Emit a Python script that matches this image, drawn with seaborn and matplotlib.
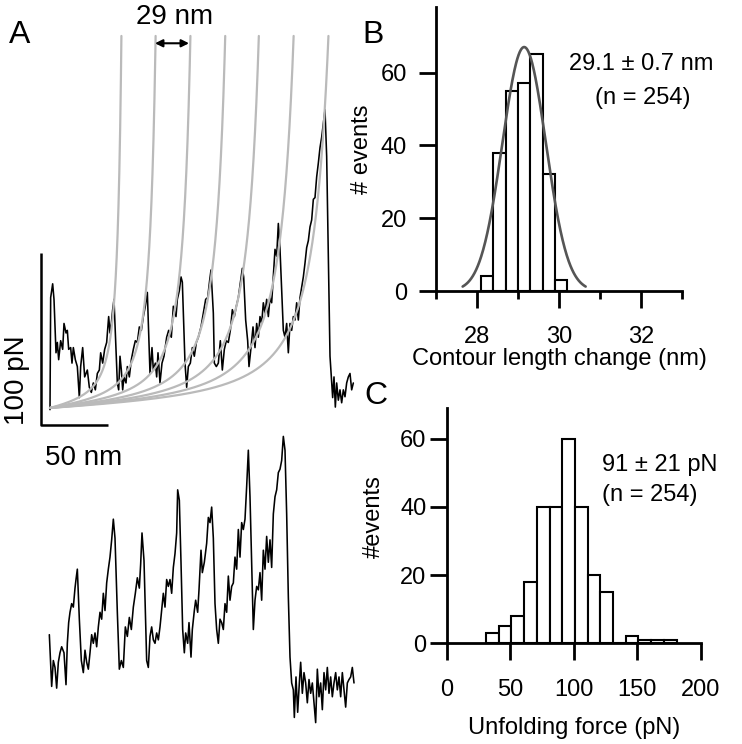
import numpy as np
import pandas as pd
import matplotlib
matplotlib.use("Agg")
import matplotlib.pyplot as plt
import seaborn as sns

# ---- Panel A: force-extension traces (extension in nm, force in pN) ----
top_ext = [0, 0.5, 2, 3, 4.5, 5.5, 6.5, 8, 9.5, 10.5,
           12, 13, 14, 15.5, 16.5, 17.5, 19, 20.5, 22, 23,
           24.5, 26, 28, 29.5, 31, 32.5, 34, 35.5, 37, 38,
           39.5, 41, 42.5, 44, 45, 46, 47, 48, 49, 50.5,
           51.5, 52.5, 53.5, 54.5, 55.5, 57, 58, 59.5, 61, 62.5,
           64, 65.5, 67, 68.5, 70, 71.5, 73, 75, 76.5, 77.5,
           79, 80, 81, 82.5, 84, 85.5, 87.5, 89, 91, 92.5,
           94.5, 95.5, 97, 98.25, 99.25, 100, 101.25, 102.5, 103.75, 105.25,
           106.75, 108.25, 109.75, 111.25, 113.25, 115, 116.75, 118.25, 119.75, 120.75,
           122.5, 123.25, 124.75, 126.25, 127.75, 129.25, 130.75, 132.25, 133.75, 135.25,
           136.75, 138.25, 139.75, 141.25, 142.75, 144.25, 145.25, 146.75, 148.25, 149.25,
           150.75, 152.25, 153.75, 155, 156.25, 157.5, 158.75, 160, 161.25, 162.5,
           163.75, 165, 166.25, 167.5, 168.75, 170, 171.25, 172.5, 173.75, 175,
           176.25, 177.5, 178.75, 180, 181.25, 182.5, 183.75, 185, 186.25, 187.5,
           188.75, 190, 191.25, 192.5, 193.75, 195, 196.25, 197.5, 198.75, 200,
           201.25, 202.5, 203.75, 205, 206.25, 207.5, 208.75, 210, 212, 213,
           214, 215, 216.25, 217.5, 218.75, 220, 221.25, 222.5, 223.75, 225,
           226.25, 227.5]
top_force = [-1, 64, 72, 63, 32, 38, 28, 39, 34, 49,
             43.5, 45, 34, 35, 26, 35, 28, 24, 6, 24,
             35, 18, 22, 12, 9, 14.5, 10.5, 20, 22, 32,
             26, 34, 38, 53, 43.5, 49, 57, 63, 43.5, 14.5,
             10.5, 30, 22, 10.5, 18, 14.5, 24, 18, 28, 34,
             39, 38, 47, 45, 53, 59, 67, 20, 35, 22,
             26, 18, 32, 14.5, 26, 30, 41, 45, 41, 59,
             53, 63, 68, 76, 73, 55, 26, 12, 24, 26,
             35, 30, 38, 41, 47, 55, 63, 64, 74, 80,
             55, 26, 24, 26, 39, 22, 34, 39, 38, 45,
             57, 53, 59, 64, 72.5, 81, 76, 51, 39, 24,
             35, 47, 35, 49, 41, 53, 49, 61, 55, 63,
             53, 64, 61, 76, 92, 88, 107, 92, 68, 45,
             41, 49, 32, 49, 45, 53, 51, 61, 51, 64,
             70, 76, 84, 93, 97, 105, 109, 121, 122, 134,
             142, 151, 157, 165, 173, 146, 88, 30, 6, 18,
             0.5, 14.5, 4.5, 10.5, 3, 10.5, 6.5, 14.5, 18, 20,
             10.5, 14.5]

low_ext = [-0.5, 1.25, 2.5, 3.75, 5, 6.25, 7.5, 8.75, 10.5, 12,
           13, 14, 15, 16.25, 17.5, 18.75, 19.5, 20.5, 22, 23.5,
           25, 26.25, 27.5, 28.75, 30, 31.25, 32.5, 33.75, 35, 36.25,
           37.5, 38.75, 40, 41.25, 42.5, 43.75, 45, 46.25, 47.5, 48.75,
           50.5, 52, 53.5, 55, 56.5, 58, 59.5, 61, 62.5, 64,
           65.5, 67, 68, 69, 70.5, 72.5, 73.75, 75, 76.25, 77.5,
           78.75, 80, 81.25, 82.5, 83.75, 85, 86.25, 87.5, 88.75, 90,
           91.25, 92.5, 93.75, 95, 95.75, 97, 98.25, 99.5, 100.75, 101.75,
           103.25, 104.25, 105.75, 106.75, 108.25, 109.25, 110.75, 111.75, 113.25, 114.25,
           115.75, 117.5, 118.75, 120, 121.25, 122.5, 123.75, 125, 126.25, 127.5,
           128.75, 130, 131.25, 132.5, 133.75, 135, 136.25, 137.5, 138.75, 140,
           141.25, 142.5, 143.75, 145, 146.25, 147.5, 148.75, 150, 151.25, 152.5,
           153.75, 155, 156.25, 157.5, 158.75, 160, 161.25, 162.5, 163.75, 165,
           166.25, 167.5, 168.75, 170, 171.25, 172.5, 173.75, 175, 176.25, 177.5,
           178.75, 180, 181.25, 182.5, 183.25, 184.5, 185.75, 187, 188, 189.25,
           190.5, 191.75, 193, 194.25, 195.5, 196.75, 198, 199.25, 200.5, 201.75,
           203, 204.25, 205.5, 206.75, 208, 209.25, 210.5, 211.75, 213, 214.25,
           215.5, 216.75, 218, 219.25, 220.5, 221.75, 223, 224.25, 225.5, 226.75,
           228]
low_force = [32, 2, 17, 13, 1, 16, 21.5, 25, 21.5, 3,
             27, 39, 45, 50, 48, 59, 64, 70, 41, 17,
             10, 23, 16, 12, 21.5, 32, 27, 33, 25, 36.5,
             45, 41, 56, 46, 62, 70, 77, 87, 99, 88,
             45, 12, 17, 13, 36.5, 31, 42, 35, 48, 56,
             65, 59, 73, 91, 75, 17, 13, 31, 36.5, 29,
             27, 33, 29, 36.5, 46, 56, 48, 64, 60, 64,
             56, 71, 79, 91, 116, 110, 74, 35, 21.5, 33,
             27, 39, 19, 35, 46, 52, 45, 58, 81, 68,
             74, 85, 100, 97, 106, 88, 50, 35, 27, 41,
             39, 35, 50, 45, 66, 52, 60, 62, 77, 70,
             93, 77, 97, 93, 99, 118, 139, 112, 74, 35,
             52, 60, 58, 68, 52, 81, 70, 89, 74, 87,
             71, 102, 112, 116, 126, 128, 133, 147, 139, 102,
             54, 19, 4, 0, -16, 7.5, -13, 4, 16, -2,
             10, 4, -7.5, 6, -2, 4, -7.5, -19, 12, -4,
             4, -11.5, 10, 0, 13, -2, 7.5, -4, 4, 10,
             0, 7.5, -4, 10, 0, -10, 4, 6, 7.5, 13,
             4]
low_offset = -163.5   # lower trace is drawn below the upper one

# worm-like-chain fits (grey): contour lengths in nm
contour_lengths = [59.5, 88, 117, 146, 174, 203, 232]
persistence = 0.49   # nm
kT = 4.11            # pN nm
wlc_fmax = 216       # pN, where the fit curves are cut

# ---- Panel B: contour length change histogram ----
dlc_centers = [28.25, 28.55, 28.85, 29.15, 29.45, 29.75, 30.05]
dlc_counts = [4, 38, 55, 57, 65, 32, 3]
dlc_width = 0.3
gauss_mean, gauss_sd, gauss_amp = 29.15, 0.53, 67

# ---- Panel C: unfolding force histogram ----
force_centers = [36, 46, 56, 66, 76, 86, 96, 106, 116, 126, 136, 146, 156, 166, 176]
force_counts = [3, 5, 8, 18, 40, 40, 60, 40, 20, 15, 0, 2, 1, 1, 1]
force_width = 10

sns.set_theme(style="ticks")
plt.rcParams["font.family"] = ["Liberation Sans", "DejaVu Sans"]
plt.rcParams.update({
    "font.size": 17,
    "axes.linewidth": 2,
    "text.color": "black",
    "axes.labelcolor": "black",
    "axes.edgecolor": "black",
    "xtick.color": "black",
    "ytick.color": "black",
})
FS = 17      # histogram panels
FSA = 20     # scale-bar labels in panel A


def bin_edges(centers, width):
    c = np.asarray(centers, dtype=float)
    return list(c - width / 2) + [float(c[-1] + width / 2)]


fig = plt.figure(figsize=(7.42, 7.44), dpi=100)

# ---------------- Panel A ----------------
axA = fig.add_axes([0, 0, 370 / 742, 1])
axA.set_xlim(-37.5, 240)
axA.set_ylim(-194.9, 236.6)
axA.axis("off")

sns.lineplot(x=top_ext, y=top_force, sort=False, estimator=None,
             color="black", lw=1.15, ax=axA, zorder=2)
sns.lineplot(x=low_ext, y=np.array(low_force) + low_offset, sort=False,
             estimator=None, color="black", lw=1.15, ax=axA, zorder=2)

r = np.linspace(0, 0.97, 4000)
f = kT / persistence * (0.25 / (1 - r) ** 2 - 0.25 + r)
keep = f <= wlc_fmax
for L in contour_lengths:
    axA.plot(r[keep] * L, f[keep], color="#bababa", lw=1.6, zorder=3)

# scale bars
bar_x0, bar_y0 = -6.75, -10
axA.plot([bar_x0, bar_x0, bar_x0 + 50], [bar_y0 + 100, bar_y0, bar_y0],
         color="black", lw=1.8, solid_capstyle="butt")
axA.text(-24.5, 16, "100 pN", rotation=90, ha="center", va="center", fontsize=FSA)
axA.text(25, -29, "50 nm", ha="center", va="center", fontsize=FSA)

# spacing arrow
axA.annotate("", xy=(104.25, 211.5), xytext=(78.75, 211.5),
             arrowprops=dict(arrowstyle="<|-|>", color="black", lw=1.5,
                             mutation_scale=11, shrinkA=0, shrinkB=0))
axA.text(93.5, 227, "29 nm", ha="center", va="center", fontsize=FSA)

# ---------------- Panel B ----------------
axB = fig.add_axes([436 / 742, (744 - 291) / 744, 246 / 742, 284 / 744])
dfB = pd.DataFrame({"dlc": dlc_centers, "n": dlc_counts})
sns.histplot(data=dfB, x="dlc", weights="n", bins=bin_edges(dlc_centers, dlc_width),
             color="white", edgecolor="black", linewidth=1.5, alpha=1, ax=axB)
gx = np.linspace(gauss_mean - 1.5, gauss_mean + 1.5, 300)
gy = gauss_amp * np.exp(-0.5 * ((gx - gauss_mean) / gauss_sd) ** 2)
axB.plot(gx, gy, color="#555555", lw=1.9, zorder=4)
axB.set_xlim(27, 33)
axB.set_ylim(0, 78)
axB.set_xticks([28, 30, 32])
axB.set_xticks([27, 29, 31, 33], minor=True)
axB.set_yticks([0, 20, 40, 60])
axB.tick_params(axis="both", which="major", length=12, width=2, labelsize=FS)
axB.tick_params(axis="x", which="major", pad=13.5)
axB.tick_params(axis="y", which="major", pad=9)
axB.tick_params(axis="x", which="minor", length=6, width=2)
sns.despine(ax=axB)
axB.set_xlabel("Contour length change (nm)", fontsize=FS)
axB.set_ylabel("# events", fontsize=FS)
axB.xaxis.set_label_coords(0.5, -0.238)
axB.yaxis.set_label_coords(-0.30, 0.5)
axB.xaxis.label.set_va("center")
axB.yaxis.label.set_va("center")
axB.text(32.0, 62.3, "29.1 \u00b1 0.7 nm", ha="center", va="center", fontsize=FS)
axB.text(32.05, 53, "(n = 254)", ha="center", va="center", fontsize=FS)

# ---------------- Panel C ----------------
axC = fig.add_axes([446.7 / 742, (744 - 643.3) / 744, 254 / 742, 235.3 / 744])
dfC = pd.DataFrame({"force": force_centers, "n": force_counts})
sns.histplot(data=dfC, x="force", weights="n", bins=bin_edges(force_centers, force_width),
             color="white", edgecolor="black", linewidth=1.5, alpha=1, ax=axC)
axC.set_xlim(0, 200)
axC.set_ylim(0, 69)
axC.set_xticks([0, 50, 100, 150, 200])
axC.set_yticks([0, 20, 40, 60])
axC.tick_params(axis="both", which="major", length=12.5, width=2, labelsize=FS)
axC.tick_params(axis="x", which="major", pad=13)
axC.tick_params(axis="y", which="major", pad=2)
sns.despine(ax=axC)
axC.set_xlabel("Unfolding force (pN)", fontsize=FS)
axC.set_ylabel("#events", fontsize=FS)
axC.xaxis.set_label_coords(0.5, -0.36)
axC.yaxis.set_label_coords(-0.286, 0.54)
axC.xaxis.label.set_va("center")
axC.yaxis.label.set_va("center")
axC.text(122.3, 52.3, "91 \u00b1 21 pN", ha="left", va="center", fontsize=FS)
axC.text(122.3, 43.4, "(n = 254)", ha="left", va="center", fontsize=FS)

# panel letters
for letter, px, py in [("A", 19.5, 35), ("B", 373, 35), ("C", 376, 396)]:
    fig.text(px / 742, 1 - py / 744, letter, ha="center", va="center", fontsize=23)

fig.savefig("out.png", dpi=100)
